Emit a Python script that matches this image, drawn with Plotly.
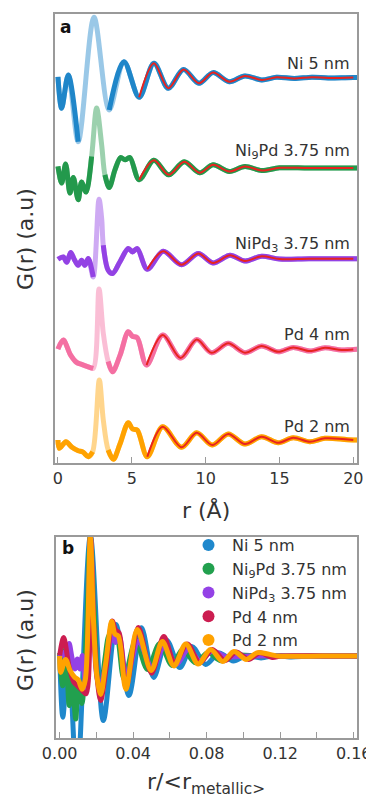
import plotly.graph_objects as go

# ---------------- data ----------------
names = ["Ni 5 nm", "Ni<sub>9</sub>Pd 3.75 nm", "NiPd<sub>3</sub> 3.75 nm", "Pd 4 nm", "Pd 2 nm"]

r_ni = [0.0, 0.25, 0.7, 1.37, 2.44, 3.47, 4.47, 5.5, 6.5, 7.47, 8.5, 9.55, 10.5, 11.6,
        12.66, 13.8, 14.8, 16.0, 17.2, 18.3, 20.0, 24.0, 27.5]
g_ni = [0.05, -3.06, 0.25, -6.38, 5.98, -3.23, 1.57, -1.97, 1.41, -1.07, 0.79, -0.58, 0.48, -0.42,
        0.15, -0.25, 0.02, -0.1, 0.03, -0.05, 0.0, 0.0, 0.0]

r_ni9pd = [0.0, 0.25, 0.52, 0.81, 1.04, 1.37, 1.6, 1.9, 2.28, 2.62, 2.96, 3.18, 3.47, 3.86, 4.24,
           4.54, 4.87, 5.5, 6.5, 7.5, 8.55, 9.6, 10.5, 11.6, 12.66, 13.8, 15.0, 17.0, 20.0, 24.0, 27.5]
g_ni9pd = [0.16, -1.49, 0.4, -2.48, -0.93, -3.15, -1.39, -2.38, 1.15, 5.96, 2.3, -0.67, -1.93, -0.17, 1.05,
           0.82, 1.05, -1.16, 0.77, -0.67, 0.63, -0.47, 0.33, -0.34, 0.16, -0.24, 0.03, 0.0, 0.0, 0.0, 0.0]

r_nipd3 = [0.0, 0.36, 0.6, 0.86, 1.1, 1.37, 1.6, 1.83, 2.05, 2.39, 2.78, 2.96, 3.07, 3.4, 3.7, 4.2,
           4.76, 5.05, 5.37, 6.05, 7.13, 8.37, 9.5, 10.5, 11.65, 12.66, 13.8, 15.0, 17.0, 20.0, 24.0, 27.5]
g_nipd3 = [-0.05, 0.18, -0.35, 0.62, -0.05, -0.65, -0.15, -0.65, 0.02, -1.81, 5.91, 3.99, 1.34, -1.14, -1.47, -0.3,
           1.01, 0.68, 1.01, -1.04, 0.74, -0.6, 0.52, -0.42, 0.35, -0.22, 0.25, -0.03, 0.0, 0.0, 0.0, 0.0]

r_pd4 = [0.0, 0.36, 0.86, 1.26, 1.6, 2.05, 2.39, 2.78, 3.07, 3.4, 3.7, 4.2, 4.76, 5.05, 5.37, 6.0,
         7.1, 8.3, 9.4, 10.4, 11.53, 12.66, 13.79, 14.92, 15.93, 17.06, 18.08, 19.2, 20.0, 24.0, 27.5]
g_pd4 = [0.03, 0.92, -0.57, -1.29, -1.49, -1.73, -1.89, 5.99, 1.6, -1.2, -2.22, -0.6, 1.75, 1.3, 1.15, -1.56,
         1.42, -0.86, 0.97, -0.34, 0.6, -0.34, 0.33, -0.24, 0.2, -0.17, 0.16, -0.07, 0.0, 0.0, 0.0]

r_pd2 = [0.0, 0.09, 0.54, 0.95, 1.37, 1.7, 2.05, 2.35, 2.8, 3.07, 3.4, 3.75, 4.2, 4.76, 5.05, 5.37,
         6.05, 7.09, 8.37, 9.39, 10.45, 11.53, 12.66, 13.79, 14.92, 15.93, 17.06, 18.08, 20.0, 24.0, 27.5]
g_pd2 = [0.0, -0.82, -0.17, -0.72, -1.06, -1.2, -1.66, -1.16, 5.96, 1.99, -0.99, -1.92, -0.4, 1.72, 1.1, 0.99,
         -1.66, 1.32, -0.72, 0.72, -0.5, 0.6, -0.4, 0.33, -0.27, 0.23, -0.17, 0.17, 0.0, 0.0, 0.0]

r_all = [r_ni, r_ni9pd, r_nipd3, r_pd4, r_pd2]
g_all = [g_ni, g_ni9pd, g_nipd3, g_pd4, g_pd2]

stack_offset = [36, 27, 18, 9, 0]             # vertical stacking in panel a
fit_start = [5.5, 5.5, 6.05, 6.0, 6.05]        # r where the fitted model starts
metallic_norm = [146, 157, 166, 166, 168]      # r -> r/<r_metallic> scale for panel b

xticks_a = [0, 5, 10, 15, 20]
xticks_b = [0.0, 0.04, 0.08, 0.12, 0.16]
xticktext_b = ["0.00", "0.04", "0.08", "0.12", "0.16"]

# ---------------- styles ----------------
col_a = ["#1f86c9", "#23994c", "#9342e4", "#f46fa2", "#ffa200"]
col_a_light = ["rgba(31,134,201,0.45)", "rgba(35,153,76,0.45)", "rgba(147,66,228,0.45)",
               "rgba(244,111,162,0.45)", "rgba(255,162,0,0.45)"]
light_span = [(1.37, 3.47), (2.28, 3.18), (2.39, 3.07), (2.39, 3.4), (2.35, 3.4)]
col_b = ["#1f88cc", "#22a04e", "#9442e6", "#cc1d50", "#ffa200"]
fit_col = "#e8231f"
FONT = "DejaVu Sans"
TXT = "#333333"
GRAY = "#9a9a9a"

# page body has an 8 px margin: the figure starts at (8, 8) of the window
OFF = 8
W, H = 374 - OFF, 798 - OFF


def px(X):
    return (X - OFF) / W


def py(Y):
    return 1 - (Y - OFF) / H


fig = go.Figure()

# ---------------- panel a ----------------
for i in range(5):
    r, g, off = r_all[i], g_all[i], stack_offset[i]
    y = [v + off for v in g]
    fig.add_trace(go.Scatter(x=r, y=y, mode="lines",
                             line=dict(color=col_a_light[i], width=5, shape="spline", smoothing=0.9),
                             xaxis="x", yaxis="y", showlegend=False, hoverinfo="skip"))
    lo, hi = light_span[i]
    seg1 = [(a, b) for a, b in zip(r, y) if a <= lo]
    seg2 = [(a, b) for a, b in zip(r, y) if a >= hi]
    for seg in (seg1, seg2):
        fig.add_trace(go.Scatter(x=[p[0] for p in seg], y=[p[1] for p in seg], mode="lines",
                                 line=dict(color=col_a[i], width=5, shape="spline", smoothing=0.9),
                                 xaxis="x", yaxis="y", showlegend=False, hoverinfo="skip"))
    fit = [(a, b) for a, b in zip(r, y) if fit_start[i] <= a <= 20.0]
    fig.add_trace(go.Scatter(x=[p[0] for p in fit], y=[p[1] for p in fit], mode="lines",
                             line=dict(color=fit_col, width=2, shape="spline", smoothing=0.9),
                             xaxis="x", yaxis="y", showlegend=False, hoverinfo="skip"))

# ---------------- panel b ----------------
for i in range(5):
    r, g = r_all[i], g_all[i]
    fig.add_trace(go.Scatter(x=[v / metallic_norm[i] for v in r], y=g, mode="lines",
                             line=dict(color=col_b[i], width=5, shape="spline", smoothing=0.9),
                             xaxis="x2", yaxis="y2", showlegend=False, hoverinfo="skip"))
for i in range(5):
    fig.add_trace(go.Scatter(x=[None], y=[None], mode="markers", name=names[i],
                             marker=dict(color=col_b[i], size=12),
                             xaxis="x2", yaxis="y2", showlegend=True))

axis_common = dict(showline=True, mirror=True, linecolor=GRAY, linewidth=1.5,
                   showgrid=False, zeroline=False, automargin=False)

title_font = dict(family=FONT, size=22, color=TXT)

fig.update_layout(
    width=W, height=H, margin=dict(l=0, r=0, t=0, b=0),
    paper_bgcolor="white", plot_bgcolor="white",
    font=dict(family=FONT, size=16, color=TXT),
    xaxis=dict(domain=[px(55), px(357)], range=[-0.2, 20.25], anchor="y",
               tickmode="array", tickvals=xticks_a, ticks="inside", ticklen=6, tickcolor=GRAY,
               tickfont=dict(size=16, color=TXT), ticklabelstandoff=0, **axis_common),
    yaxis=dict(domain=[py(463), py(14)], range=[-2.28, 42.3], anchor="x",
               showticklabels=False, ticks="", **axis_common),
    xaxis2=dict(domain=[px(56), px(357)], range=[-0.002, 0.1618], anchor="y2",
                tickmode="array", tickvals=xticks_b, ticktext=xticktext_b, ticks="inside", ticklen=6,
                tickcolor=GRAY, tickfont=dict(size=16, color=TXT), ticklabelstandoff=0,
                minor=dict(dtick=0.02, ticks="inside", ticklen=6, tickcolor=GRAY, showgrid=False),
                **axis_common),
    yaxis2=dict(domain=[py(738), py(537)], range=[-4.1, 5.95], anchor="x2",
                showticklabels=False, ticks="", **axis_common),
    legend=dict(x=px(185), xanchor="left", y=py(528), yanchor="top", itemwidth=37,
                bgcolor="rgba(0,0,0,0)", font=dict(size=16, color=TXT), tracegroupgap=0),
    annotations=[
        dict(text="<b>a</b>", x=px(58), y=py(27), xref="paper", yref="paper", xanchor="left", yanchor="middle",
             showarrow=False, font=dict(size=17, color="#111")),
        dict(text="<b>b</b>", x=px(60), y=py(548), xref="paper", yref="paper", xanchor="left", yanchor="middle",
             showarrow=False, font=dict(size=17, color="#111")),
        dict(text="r (Å)", x=px(206), y=py(510), xref="paper", yref="paper", xanchor="center",
             yanchor="middle", showarrow=False, font=title_font),
        dict(text="r/&lt;r<sub>metallic&gt;</sub>", x=px(206), y=py(783), xref="paper", yref="paper",
             xanchor="center", yanchor="middle", showarrow=False, font=title_font),
        dict(text="G(r) (a.u)", x=px(25), y=py(239), xref="paper", yref="paper", xanchor="center",
             yanchor="middle", textangle=-90, showarrow=False, font=title_font),
        dict(text="G(r) (a.u)", x=px(25), y=py(640), xref="paper", yref="paper", xanchor="center",
             yanchor="middle", textangle=-90, showarrow=False, font=title_font),
    ] + [
        dict(text=names[i], x=px(352), y=py(yy), xref="paper", yref="paper", xanchor="right",
             yanchor="middle", showarrow=False, font=dict(size=16, color=TXT))
        for i, yy in enumerate([63, 152, 244, 334, 426])
    ],
)

fig.write_html("out.html")
